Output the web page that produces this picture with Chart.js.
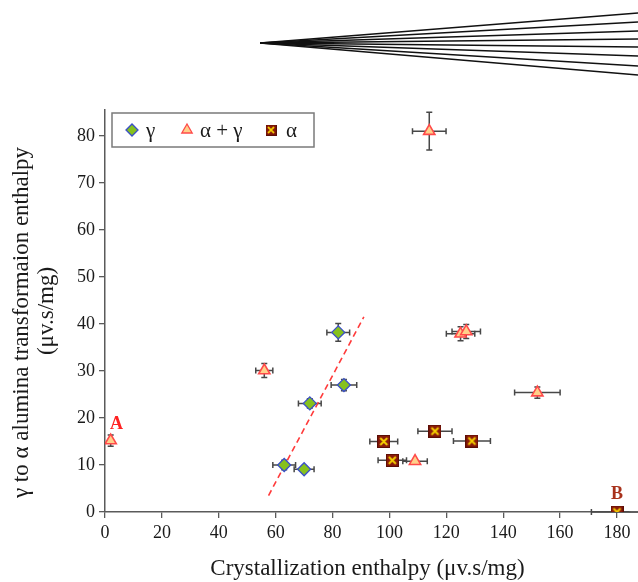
<!DOCTYPE html>
<html>
<head>
<meta charset="utf-8">
<script src="https://cdn.jsdelivr.net/npm/chart.js@4/dist/chart.umd.min.js"></script>
<style>
  html, body { margin: 0; padding: 0; background: #ffffff; }
  #wrap { width: 638px; height: 582px; position: relative; }
</style>
</head>
<body>
<div id="wrap"><canvas id="c" width="638" height="582"></canvas></div>
<script>
// ---- data ----
const xTicks = [0, 20, 40, 60, 80, 100, 120, 140, 160, 180];
const yTicks = [0, 10, 20, 30, 40, 50, 60, 70, 80];

const gammaX    = [63, 70, 72, 84, 82];
const gammaY    = [10, 9.1, 23.1, 27, 38.2];
const gammaXErr = [4, 3.5, 4, 4.5, 4];
const gammaYErr = [1, 0.6, 1, 1.2, 1.9];

const alphaGammaX    = [2, 56, 114, 125, 127, 109, 152];
const alphaGammaY    = [15.2, 30.1, 81, 37.9, 38.4, 10.8, 25.4];
const alphaGammaXErr = [0, 3, 5.9, 5, 5, 4.3, 8];
const alphaGammaYErr = [1.2, 1.5, 4, 1.5, 1.5, 0, 1.2];

const alphaX    = [98, 101, 116, 129, 180];
const alphaY    = [15, 11, 17.2, 15.1, 0];
const alphaXErr = [4.9, 5, 6, 6.5, 9];
const alphaYErr = [0, 0, 0, 0, 0];

const trendX = [57.5, 91];
const trendY = [3.5, 41.5];

const pointLabels = [
  { text: 'A', x: 4, y: 18.5, color: '#ff2222' },
  { text: 'B', x: 180, y: 3.5, color: '#a8321c' }
];

const legendLabels = ['γ', 'α + γ', 'α'];
const xTitle = 'Crystallization enthalpy (μv.s/mg)';
const yTitle = ['γ to α alumina transformaion enthalpy    ', '(μv.s/mg)'];

// decorative fan of lines at the top of the picture (end heights on right edge)
const fanEnds = [13, 22, 31, 39, 47, 56, 66, 75];

// ---- build ----
const serif = 'Liberation Serif';
const toPts = (xs, ys, xe, ye) => xs.map((x, i) => ({ x: x, y: ys[i], xe: xe[i], ye: ye[i] }));

function alphaMarker() {
  const c = document.createElement('canvas');
  c.width = 13; c.height = 13;
  const g = c.getContext('2d');
  g.fillStyle = '#8a1a0a';
  g.fillRect(0, 0, 13, 13);
  g.strokeStyle = '#5a0d05';
  g.lineWidth = 1;
  g.strokeRect(0.5, 0.5, 12, 12);
  g.strokeStyle = '#f5d000';
  g.lineWidth = 2;
  g.beginPath();
  g.moveTo(3, 3); g.lineTo(10, 10);
  g.moveTo(10, 3); g.lineTo(3, 10);
  g.stroke();
  return c;
}
const alphaImg = alphaMarker();

const errorBars = {
  id: 'errorBars',
  beforeDatasetsDraw(chart) {
    const ctx = chart.ctx, xs = chart.scales.x, ys = chart.scales.y;
    ctx.save();
    ctx.strokeStyle = '#474747';
    ctx.lineWidth = 1.5;
    chart.data.datasets.forEach(ds => {
      if (ds.type === 'line') return;
      ds.data.forEach(p => {
        const px = xs.getPixelForValue(p.x), py = ys.getPixelForValue(p.y);
        const cap = 3;
        if (p.xe) {
          const l = xs.getPixelForValue(p.x - p.xe), r = xs.getPixelForValue(p.x + p.xe);
          ctx.beginPath();
          ctx.moveTo(l, py); ctx.lineTo(r, py);
          ctx.moveTo(l, py - cap); ctx.lineTo(l, py + cap);
          ctx.moveTo(r, py - cap); ctx.lineTo(r, py + cap);
          ctx.stroke();
        }
        if (p.ye) {
          const t = ys.getPixelForValue(p.y + p.ye), b = ys.getPixelForValue(p.y - p.ye);
          ctx.beginPath();
          ctx.moveTo(px, t); ctx.lineTo(px, b);
          ctx.moveTo(px - cap, t); ctx.lineTo(px + cap, t);
          ctx.moveTo(px - cap, b); ctx.lineTo(px + cap, b);
          ctx.stroke();
        }
      });
    });
    ctx.restore();
  }
};

const extras = {
  id: 'extras',
  afterDraw(chart) {
    const ctx = chart.ctx, xs = chart.scales.x, ys = chart.scales.y;
    ctx.save();
    // extend the x axis line to the right edge of the picture
    ctx.strokeStyle = '#5a5a5a';
    ctx.lineWidth = 1.5;
    ctx.beginPath();
    ctx.moveTo(chart.chartArea.right - 1, ys.getPixelForValue(0));
    ctx.lineTo(chart.width, ys.getPixelForValue(0));
    ctx.stroke();
    // point labels A, B
    ctx.font = 'bold 18px "' + serif + '"';
    ctx.textAlign = 'center';
    ctx.textBaseline = 'bottom';
    pointLabels.forEach(l => {
      ctx.fillStyle = l.color;
      ctx.fillText(l.text, xs.getPixelForValue(l.x), ys.getPixelForValue(l.y) + 8);
    });
    // legend box
    const bx = 112, by = 113, bw = 202, bh = 34;
    ctx.fillStyle = '#ffffff';
    ctx.fillRect(bx, by, bw, bh);
    ctx.strokeStyle = '#7a7a7a';
    ctx.lineWidth = 1.5;
    ctx.strokeRect(bx, by, bw, bh);
    const cy = by + bh / 2;
    const items = [
      { mx: 132, tx: 146, ds: 0 },
      { mx: 187, tx: 200, ds: 1 },
      { mx: 271, tx: 286, ds: 2 }
    ];
    ctx.font = '21px "' + serif + '"';
    ctx.textAlign = 'left';
    ctx.textBaseline = 'middle';
    items.forEach((it, i) => {
      const ds = chart.data.datasets[it.ds];
      if (ds.pointStyle === alphaImg) {
        ctx.drawImage(alphaImg, it.mx - 5.5, cy - 5.5, 11, 11);
      } else {
        ctx.fillStyle = ds.backgroundColor;
        ctx.strokeStyle = ds.borderColor;
        ctx.lineWidth = 1.3;
        Chart.helpers.drawPoint(ctx, { pointStyle: ds.pointStyle, radius: 6, borderWidth: 1.3, rotation: 0 }, it.mx, cy);
      }
      ctx.fillStyle = '#1a1a1a';
      ctx.fillText(legendLabels[i], it.tx, cy + 1);
    });
    // decorative fan
    ctx.strokeStyle = '#111111';
    ctx.lineWidth = 1.5;
    fanEnds.forEach(e => {
      ctx.beginPath();
      ctx.moveTo(260, 43);
      ctx.lineTo(chart.width, e);
      ctx.stroke();
    });
    ctx.restore();
  }
};

const tickFont = { family: serif, size: 18 };
const titleFont = { family: serif, size: 23, lineHeight: 1.1 };

const chart = new Chart(document.getElementById('c'), {
  type: 'scatter',
  data: {
    datasets: [
      {
        label: legendLabels[0],
        data: toPts(gammaX, gammaY, gammaXErr, gammaYErr),
        pointStyle: 'rectRot', pointRadius: 6.5,
        backgroundColor: '#86c11d', borderColor: '#3a4fc8', borderWidth: 1.3
      },
      {
        label: legendLabels[1],
        data: toPts(alphaGammaX, alphaGammaY, alphaGammaXErr, alphaGammaYErr),
        pointStyle: 'triangle', pointRadius: 6.5,
        backgroundColor: '#ffd08a', borderColor: '#ff4a4a', borderWidth: 1.6
      },
      {
        label: legendLabels[2],
        data: toPts(alphaX, alphaY, alphaXErr, alphaYErr),
        pointStyle: alphaImg, pointRadius: 6.5,
        backgroundColor: '#8a1a0a', borderColor: '#5a0d05'
      },
      {
        type: 'line',
        label: 'trend',
        data: trendX.map((x, i) => ({ x: x, y: trendY[i] })),
        borderColor: '#ff3b3b', borderWidth: 1.6, borderDash: [6, 4],
        pointRadius: 0, fill: false
      }
    ]
  },
  options: {
    responsive: false,
    animation: false,
    layout: { padding: { top: 110, right: 0, left: 0, bottom: 0 } },
    plugins: { legend: { display: false }, tooltip: { enabled: false } },
    scales: {
      x: {
        type: 'linear', min: 0, max: 187.3,
        afterBuildTicks: s => { s.ticks = xTicks.map(v => ({ value: v })); },
        afterFit: s => { s.height = 70; },
        ticks: { font: tickFont, color: '#1a1a1a', padding: 4, maxRotation: 0, autoSkip: false },
        grid: { drawOnChartArea: false, drawTicks: true, tickLength: 6, color: '#5a5a5a', lineWidth: 1.3 },
        border: { display: true, color: '#5a5a5a', width: 1.5 },
        title: { display: true, text: xTitle, font: titleFont, color: '#1a1a1a', padding: { top: 0, bottom: 0 } }
      },
      y: {
        type: 'linear', min: 0, max: 85.5,
        afterBuildTicks: s => { s.ticks = yTicks.map(v => ({ value: v })); },
        afterFit: s => { s.width = 105; },
        ticks: { font: tickFont, color: '#1a1a1a', padding: 4, autoSkip: false },
        grid: { drawOnChartArea: false, drawTicks: true, tickLength: 6, color: '#5a5a5a', lineWidth: 1.3 },
        border: { display: true, color: '#5a5a5a', width: 1.5 },
        title: { display: true, text: yTitle, font: titleFont, color: '#1a1a1a', padding: { top: 9.5, bottom: 0 } }
      }
    }
  },
  plugins: [errorBars, extras]
});

// keep the reference scale (20 units ≈ 56.9 px) despite the layout's right margin
const area = chart.chartArea;
const pxPerUnit = 512 / 180;
chart.options.scales.x.max = (area.right - area.left) / pxPerUnit;
chart.update('none');
</script>
</body>
</html>
